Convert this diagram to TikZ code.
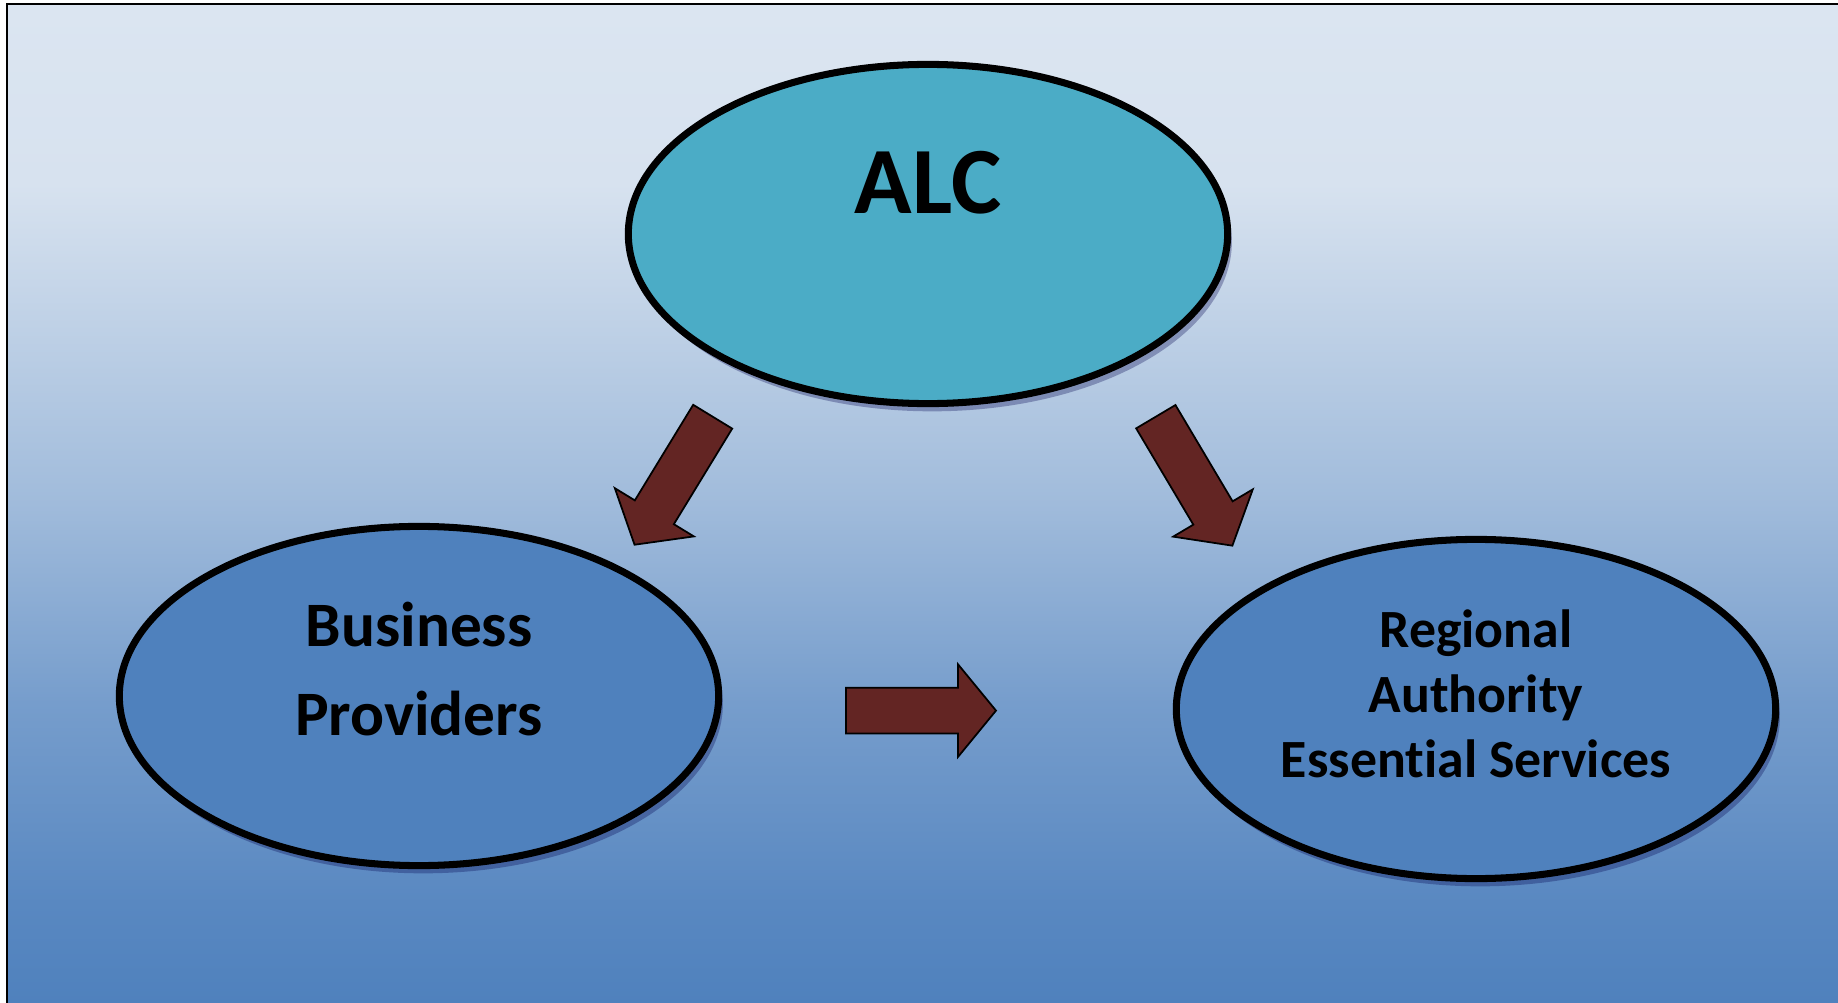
\documentclass[tikz,border=0pt]{standalone}
\usepackage{fontspec}
\setmainfont{Carlito}[Ligatures=CommonOff]
\usetikzlibrary{shapes.geometric, shadows}
\definecolor{bglight}{HTML}{DBE5F1}
\definecolor{bgupper}{HTML}{D7E2EF}
\definecolor{bgmid}{HTML}{A0BBDB}
\definecolor{bglower}{HTML}{769DCC}
\definecolor{bgnear}{HTML}{5988C1}
\definecolor{bgdark}{HTML}{4F81BD}
\definecolor{alcblue}{HTML}{4BACC6}
\definecolor{boxblue}{HTML}{4F81BD}
\definecolor{arrowred}{HTML}{632523}
\pgfdeclareverticalshading{backdrop}{100bp}{color(0bp)=(bgdark); color(25bp)=(bgdark); color(30bp)=(bgnear); color(40bp)=(bglower); color(50bp)=(bgmid); color(66bp)=(bgupper); color(75bp)=(bglight); color(100bp)=(bglight)}
\tikzset{>=stealth,
  bubble/.style={ellipse, draw, line width=2pt, minimum width=5.99cm, minimum height=3.39cm, inner sep=0pt,
    drop shadow={shadow xshift=1.2pt, shadow yshift=-2.2pt, opacity=.3, fill=black!70!blue}},
  blockarrow/.pic={\draw[fill=arrowred, line width=0.5pt] (0,-22.85) -- (112,-22.85) -- (112,-46.3) -- (150,0)
    -- (112,46.3) -- (112,22.85) -- (0,22.85) -- cycle;}}

\begin{document}
\begin{tikzpicture}[x=0.01cm, y=-0.01cm]
    \useasboundingbox (0,0) rectangle (1838,1003);
    \shade[shading=backdrop] (7,4) rectangle (1838,1003);
    \draw[line width=0.6pt] (7,1003) -- (7,4) -- (1838,4);
    \node[bubble, fill=alcblue] (alc) at (928,234) {};
    \node[bubble, fill=boxblue] (business) at (419,696) {};
    \node[bubble, fill=boxblue] (regional) at (1476,709) {};
    \node[font=\fontsize{27}{32}\selectfont\bfseries, anchor=base] (alctext) at (928,213) {ALC};
    \node[font=\fontsize{18}{25.3}\selectfont\bfseries, align=center] (businesstext) at (419,669) {Business\\Providers};
    \node[font=\fontsize{15.3}{18.5}\selectfont\bfseries, align=center] (regionaltext) at (1476,694) {Regional\\Authority\\Essential Services};
    \pic[rotate=-121.4] at (712.7,416.7) {blockarrow};
    \pic[rotate=-59.3] at (1155.8,416.7) {blockarrow};
    \pic at (846,710.6) {blockarrow};
\end{tikzpicture}
\end{document}
